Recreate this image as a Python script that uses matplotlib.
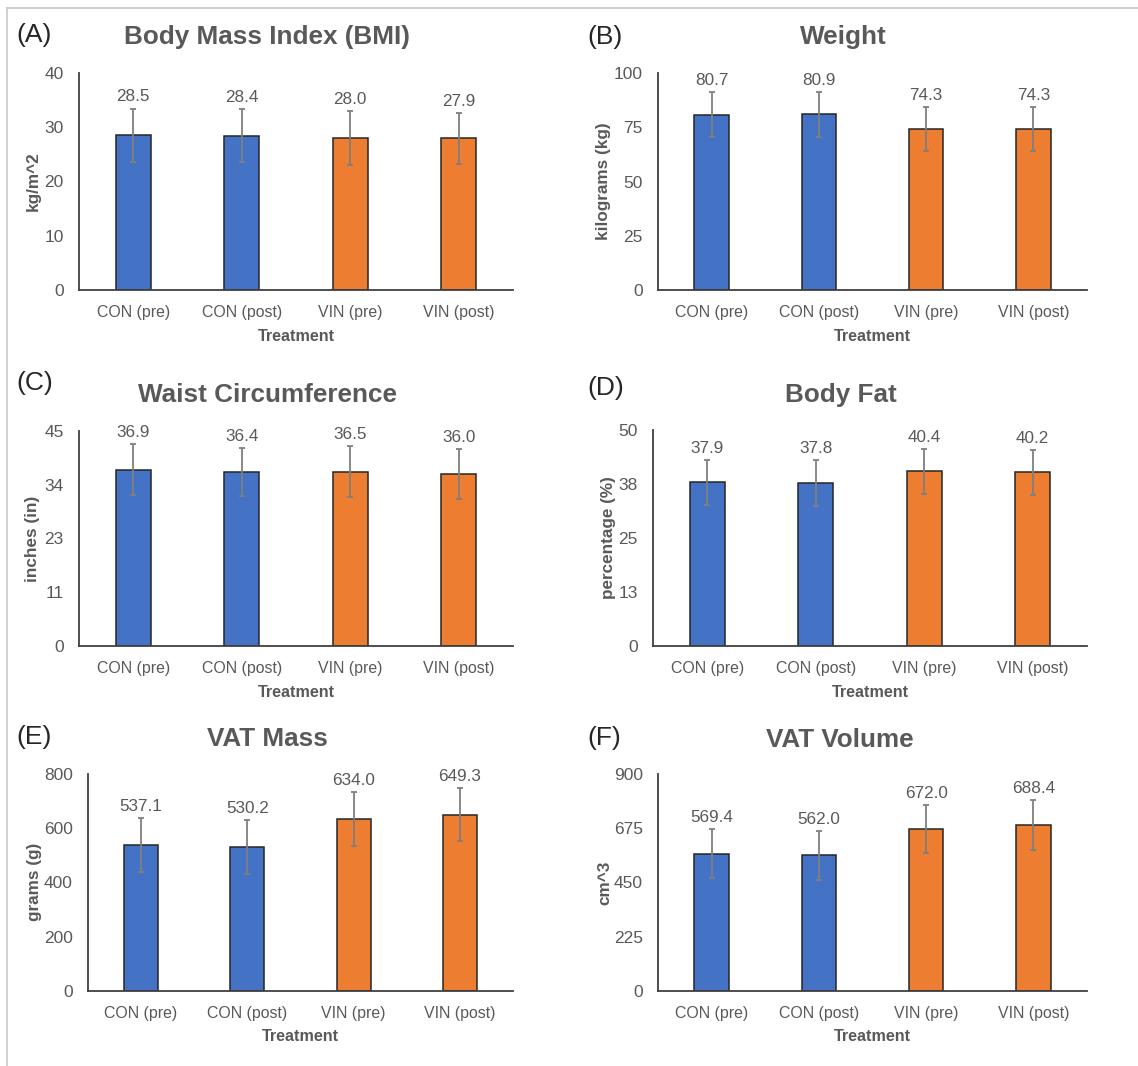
import matplotlib
matplotlib.use("Agg")
import matplotlib.pyplot as plt
from matplotlib.lines import Line2D

plt.rcParams["font.family"] = ["Liberation Sans", "DejaVu Sans"]

# ---- data -------------------------------------------------------------
groups = ["CON (pre)", "CON (post)", "VIN (pre)", "VIN (post)"]

bmi_mean = [28.5, 28.4, 28.0, 27.9]
bmi_sd = [4.9, 4.9, 5.0, 4.7]

weight_mean = [80.7, 80.9, 74.3, 74.3]
weight_sd = [10.4, 10.2, 10.1, 10.1]

waist_mean = [36.9, 36.4, 36.5, 36.0]
waist_sd = [5.3, 5.1, 5.3, 5.2]

fat_mean = [37.9, 37.8, 40.4, 40.2]
fat_sd = [5.2, 5.3, 5.2, 5.2]

vat_mass_mean = [537.1, 530.2, 634.0, 649.3]
vat_mass_sd = [99, 100, 100, 98]

vat_vol_mean = [569.4, 562.0, 672.0, 688.4]
vat_vol_sd = [101, 101, 99, 104]

bmi_ticks = [0, 10, 20, 30, 40]
weight_ticks = [0, 25, 50, 75, 100]
waist_ticks = [0, 11.25, 22.5, 33.75, 45]
waist_tick_labels = ["0", "11", "23", "34", "45"]
fat_ticks = [0, 12.5, 25, 37.5, 50]
fat_tick_labels = ["0", "13", "25", "38", "50"]
vat_mass_ticks = [0, 200, 400, 600, 800]
vat_vol_ticks = [0, 225, 450, 675, 900]

# ---- styling ----------------------------------------------------------
W, H = 1138, 1066
BLUE = "#4472C4"
ORANGE = "#ED7D31"
bar_colors = [BLUE, BLUE, ORANGE, ORANGE]
TXT = "#595959"
AXIS = "#404040"

fig = plt.figure(figsize=(W / 100, H / 100), dpi=100)
fig.patch.set_facecolor("white")


def px_axes(x0, x1, y_top, y_base):
    """Axes from pixel coordinates (origin top-left)."""
    return fig.add_axes([x0 / W, (H - y_base) / H, (x1 - x0) / W, (y_base - y_top) / H])


panels = [
    # letter, title, ylabel, means, sds, ticks, ticklabels, axes px box, title x, title y, ylabel x
    ("(A)", "Body Mass Index (BMI)", "kg/m^2", bmi_mean, bmi_sd, bmi_ticks, None,
     (79, 513, 72.7, 290), 267, 37, 33),
    ("(B)", "Weight", "kilograms (kg)", weight_mean, weight_sd, weight_ticks, None,
     (658, 1087, 73, 290), 843, 37, 604),
    ("(C)", "Waist Circumference", "inches (in)", waist_mean, waist_sd, waist_ticks, waist_tick_labels,
     (79, 513, 431, 646), 267, 395, 33),
    ("(D)", "Body Fat", "percentage (%)", fat_mean, fat_sd, fat_ticks, fat_tick_labels,
     (653, 1087, 430, 646), 841, 395, 609),
    ("(E)", "VAT Mass", "grams (g)", vat_mass_mean, vat_mass_sd, vat_mass_ticks, None,
     (88, 513, 774, 990.7), 267, 739, 35),
    ("(F)", "VAT Volume", "cm^3", vat_vol_mean, vat_vol_sd, vat_vol_ticks, None,
     (658, 1087, 774, 990.7), 840, 740, 605),
]

letter_pos = [(16, 35), (587, 37), (16, 383), (587, 388), (16, 737), (587, 738)]

for (letter, title, ylab, means, sds, ticks, tlabels, box, tx, ty, ylx), (lx, ly) in zip(panels, letter_pos):
    ax = px_axes(*box)
    xs = list(range(len(groups)))
    ax.bar(xs, means, width=0.32, color=bar_colors, edgecolor="#262626", linewidth=1.1, zorder=2)
    ax.errorbar(xs, means, yerr=sds, fmt="none", ecolor="#7f7f7f", elinewidth=1.3,
                capsize=2.2, capthick=1.3, zorder=3)
    for x, m, s in zip(xs, means, sds):
        ax.annotate(f"{m:.1f}", xy=(x, m + s), xytext=(0, 3), textcoords="offset points",
                    ha="center", va="bottom", fontsize=12.3, color=TXT)
    ax.set_xlim(-0.5, len(groups) - 0.5)
    ax.set_ylim(ticks[0], ticks[-1])
    ax.set_yticks(ticks)
    if tlabels is not None:
        ax.set_yticklabels(tlabels)
    ax.set_xticks(xs)
    ax.set_xticklabels(groups)
    ax.tick_params(axis="both", length=0, labelcolor=TXT)
    ax.tick_params(axis="y", pad=11, labelsize=12.5)
    ax.tick_params(axis="x", pad=11, labelsize=11.4)
    for side in ("top", "right"):
        ax.spines[side].set_visible(False)
    for side in ("left", "bottom"):
        ax.spines[side].set_color(AXIS)
        ax.spines[side].set_linewidth(1.3)
    ax.set_xlabel("Treatment", fontsize=11.6, fontweight="bold", color=TXT, labelpad=6)
    ax.set_facecolor("none")

    fig.text(ylx / W, 1 - ((box[2] + box[3]) / 2) / H, ylab, rotation=90, ha="center", va="center",
             fontsize=12.3, fontweight="bold", color=TXT)
    fig.text(tx / W, 1 - ty / H, title, ha="center", va="center",
             fontsize=18.8, fontweight="bold", color=TXT)
    fig.text(lx / W, 1 - ly / H, letter, ha="left", va="center", fontsize=19, color="#262626")

# thin outer frame along the top and left edges
fig.add_artist(Line2D([7 / W, 1], [1 - 8 / H, 1 - 8 / H], color="#c8c8c8", lw=1.2))
fig.add_artist(Line2D([7 / W, 7 / W], [0, 1 - 8 / H], color="#c8c8c8", lw=1.2))

fig.savefig("out.png", dpi=100)
